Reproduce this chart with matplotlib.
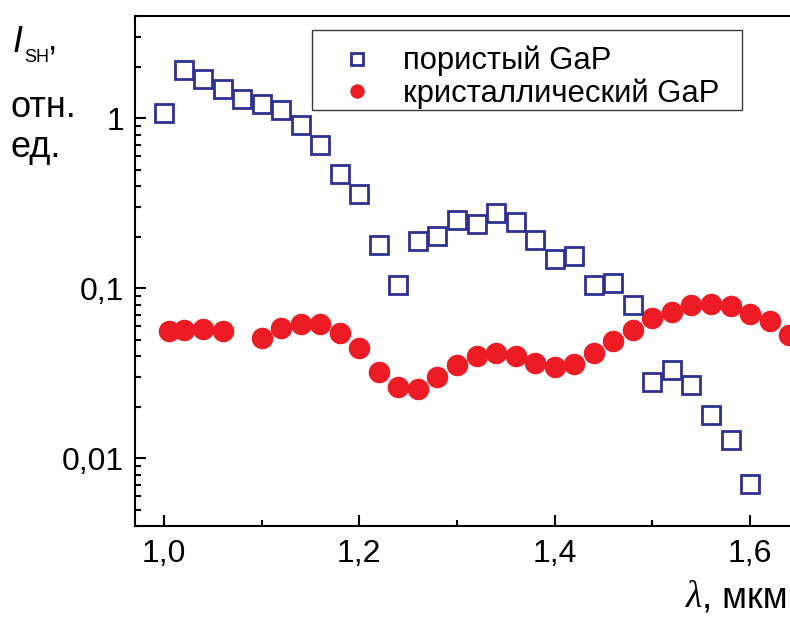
import matplotlib
matplotlib.use("Agg")
import matplotlib.pyplot as plt
from matplotlib.patches import Rectangle
from matplotlib.ticker import FixedLocator, FixedFormatter, LogLocator, NullFormatter
import numpy as np

plt.rcParams["font.family"] = ["Liberation Sans", "DejaVu Sans"]

# porous GaP (squares)
wl_porous = [1.00, 1.02, 1.04, 1.06, 1.08, 1.10, 1.12, 1.14, 1.16, 1.18,
             1.20, 1.22, 1.24, 1.26, 1.28, 1.30, 1.32, 1.34, 1.36, 1.38,
             1.40, 1.42, 1.44, 1.46, 1.48, 1.50, 1.52, 1.54, 1.56, 1.58, 1.60]
sh_porous = [1.08, 1.93, 1.71, 1.49, 1.30, 1.22, 1.12, 0.92, 0.70, 0.47,
             0.36, 0.179, 0.104, 0.189, 0.202, 0.251, 0.238, 0.276, 0.244, 0.192,
             0.148, 0.154, 0.104, 0.107, 0.080, 0.0281, 0.0331, 0.0270, 0.0180, 0.0128, 0.0071]

# crystalline GaP (circles)
wl_cryst = [1.005, 1.02, 1.04, 1.06, 1.10, 1.12, 1.14, 1.16, 1.18, 1.20,
            1.22, 1.24, 1.26, 1.28, 1.30, 1.32, 1.34, 1.36, 1.38, 1.40,
            1.42, 1.44, 1.46, 1.48, 1.50, 1.52, 1.54, 1.56, 1.58, 1.60, 1.62, 1.64]
sh_cryst = [0.0561, 0.0569, 0.0574, 0.0561, 0.0508, 0.0584, 0.0614, 0.0614, 0.0544, 0.0444,
            0.0322, 0.0262, 0.0256, 0.0301, 0.0356, 0.0400, 0.0417, 0.0402, 0.0364, 0.0345,
            0.0358, 0.0417, 0.0492, 0.0566, 0.0666, 0.0728, 0.0797, 0.0811, 0.0783, 0.0709,
            0.0640, 0.0532]

xticks = [1.0, 1.2, 1.4, 1.6]
xtick_labels = ["1,0", "1,2", "1,4", "1,6"]
yticks = [0.01, 0.1, 1]
ytick_labels = ["0,01", "0,1", "1"]

navy = "#2e3192"
red = "#ed1c24"
W, H = 790, 621


def px(x, y):
    # pixel position (from top-left) -> figure fraction
    return x / W, 1 - y / H


fig = plt.figure(figsize=(7.9, 6.21), dpi=100)
ax = fig.add_axes([135 / W, 95 / H, 1 - 135 / W, 510 / H])

ax.plot(wl_porous, sh_porous, ls="none", marker="s", ms=12.5, mfc="none",
        mec=navy, mew=2.0, label="пористый GaP", zorder=3)
ax.plot(wl_cryst, sh_cryst, ls="none", marker="o", ms=15.5, mfc=red,
        mec=red, mew=0, label="кристаллический GaP", zorder=2)

ax.set_yscale("log")
ax.set_xlim(0.9703, 1.6409)
ax.set_ylim(0.004, 4)

ax.xaxis.set_major_locator(FixedLocator(xticks))
ax.xaxis.set_major_formatter(FixedFormatter(xtick_labels))
ax.xaxis.set_minor_locator(FixedLocator([1.1, 1.3, 1.5]))
ax.yaxis.set_major_locator(FixedLocator(yticks))
ax.yaxis.set_major_formatter(FixedFormatter(ytick_labels))
ax.yaxis.set_minor_locator(LogLocator(base=10, subs=np.arange(2, 10)))
ax.yaxis.set_minor_formatter(NullFormatter())

ax.tick_params(which="both", direction="in", width=1.5, labelsize=23,
               top=False, right=False)
ax.tick_params(which="major", length=8)
ax.tick_params(which="minor", length=4)
ax.tick_params(axis="x", pad=9)
ax.tick_params(axis="y", pad=8)

for side in ["left", "bottom", "top"]:
    ax.spines[side].set_linewidth(1.5)
ax.spines["right"].set_visible(False)

# legend entries without frame; the frame is drawn separately
ax.legend(loc="upper left", bbox_to_anchor=((324 - 135) / 655, (526 - 46) / 510),
          fontsize=22.3, frameon=False, markerscale=0.67,
          borderaxespad=0, handletextpad=0.45, borderpad=0,
          labelspacing=0.07, handlelength=2.1)
fig.patches.append(Rectangle(px(312, 110), 430 / W, 80 / H, transform=fig.transFigure,
                             fill=False, edgecolor="#3a3a3a", linewidth=1.0))

# y label, three lines in the upper-left corner
fig.text(*px(13, 52), "I", fontsize=26, style="italic", ha="left", va="baseline")
fig.text(*px(24, 62), "SH", fontsize=13, ha="left", va="baseline")
fig.text(*px(48, 49), ",", fontsize=24, ha="left", va="baseline")
fig.text(*px(11, 117), "отн.", fontsize=26, ha="left", va="baseline")
fig.text(*px(11, 157), "ед.", fontsize=26, ha="left", va="baseline")

# x label at lower right
unit = fig.text(*px(788, 607), ", мкм", fontsize=26, ha="right", va="baseline")
fig.canvas.draw()
bb = unit.get_window_extent()
fig.text(bb.x0 / W, 1 - 607 / H, "λ", fontsize=27, family="Liberation Serif",
         style="italic", ha="right", va="baseline")

fig.savefig("out.png", dpi=100)
